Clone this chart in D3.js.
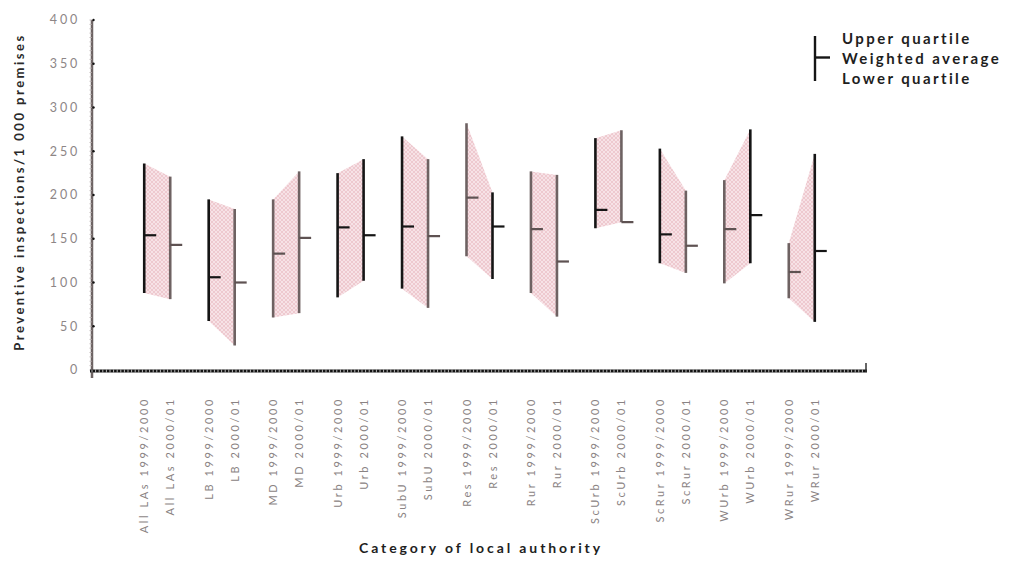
<!DOCTYPE html>
<html>
<head>
<meta charset="utf-8">
<script src="https://cdn.jsdelivr.net/npm/d3@7"></script>
<style>
  html, body { margin: 0; padding: 0; background: #fff; overflow: hidden; }
  svg { display: block; }
  text { font-family: Lato, "Open Sans", sans-serif; }
</style>
</head>
<body>
<script>
// ---- data ----
const groups = ["All LAs", "LB", "MD", "Urb", "SubU", "Res", "Rur", "ScUrb", "ScRur", "WUrb", "WRur"];
const years = ["1999/2000", "2000/01"];
const upper9900 = [236, 195, 195, 225, 267, 282, 227, 265, 253, 217, 145];
const avg9900   = [154, 106, 133, 163, 164, 197, 161, 183, 155, 161, 112];
const lower9900 = [88, 56, 60, 83, 93, 130, 88, 162, 122, 99, 82];
const upper0001 = [221, 184, 227, 241, 241, 203, 223, 274, 205, 275, 247];
const avg0001   = [143, 100, 151, 154, 153, 164, 124, 169, 142, 177, 136];
const lower0001 = [81, 28, 65, 102, 71, 104, 61, 169, 111, 122, 55];
const yTicks = [0, 50, 100, 150, 200, 250, 300, 350, 400];
const legendLabels = ["Upper quartile", "Weighted average", "Lower quartile"];
const yTitle = "Preventive inspections/1 000 premises";
const xTitle = "Category of local authority";

// ---- drawing ----
const W = 1012, H = 574;
const svg = d3.select("body").append("svg").attr("width", W).attr("height", H);

const y = d3.scaleLinear().domain([0, 400]).range([370, 20]);
const x0 = d3.scaleBand().domain(groups).range([125, 834]);
const x1 = d3.scalePoint().domain(years).range([x0.bandwidth() / 2 - 13, x0.bandwidth() / 2 + 13]);

const rows = [];
groups.forEach((g, i) => {
  rows.push({ g, yr: years[0], hi: upper9900[i], avg: avg9900[i], lo: lower9900[i], i, k: 0 });
  rows.push({ g, yr: years[1], hi: upper0001[i], avg: avg0001[i], lo: lower0001[i], i, k: 1 });
});
const xp = d => x0(d.g) + x1(d.yr);

// pattern for the shaded bands
const defs = svg.append("defs");
const pat = defs.append("pattern").attr("id", "hatch").attr("patternUnits", "userSpaceOnUse")
  .attr("width", 4).attr("height", 4);
pat.append("rect").attr("width", 4).attr("height", 4).attr("fill", "#eec9cf");
pat.append("path").attr("d", "M0,0 L4,4 M4,0 L0,4").attr("stroke", "#f9e9ec").attr("stroke-width", 0.8);

// shaded polygons linking the two years
svg.append("g").selectAll("path").data(groups).join("path")
  .attr("fill", "url(#hatch)")
  .attr("d", (g, i) => {
    const a = x0(g) + x1(years[0]), b = x0(g) + x1(years[1]);
    return `M${a},${y(upper9900[i])}L${b},${y(upper0001[i])}L${b},${y(lower0001[i])}L${a},${y(lower9900[i])}Z`;
  });

// axes
const yAxisG = svg.append("g");
yAxisG.append("line").attr("x1", 92).attr("x2", 92).attr("y1", y(400)).attr("y2", 378)
  .attr("stroke", "#6d6363").attr("stroke-width", 2.5);
yAxisG.selectAll("line.minor").data(d3.range(0, 401, 5)).join("line").attr("class", "minor")
  .attr("x1", 89.5).attr("x2", 92).attr("y1", d => y(d)).attr("y2", d => y(d))
  .attr("stroke", "#b5abab").attr("stroke-width", 0.8);
yAxisG.selectAll("circle").data(yTicks.slice(1)).join("circle")
  .attr("cx", 93.5).attr("cy", d => y(d)).attr("r", 1.2).attr("fill", "#111");
yAxisG.selectAll("text").data(yTicks).join("text")
  .attr("x", 80).attr("y", d => y(d)).attr("dy", "0.35em").attr("text-anchor", "end")
  .attr("font-size", 12.5).attr("letter-spacing", 2.8).attr("fill", "#8d8686").text(d => d);

const xAxisG = svg.append("g");
xAxisG.append("line").attr("x1", 90).attr("x2", 867).attr("y1", 371).attr("y2", 371)
  .attr("stroke", "#111").attr("stroke-width", 3.2);
xAxisG.selectAll("line.minor").data(d3.range(92, 866, 3.6)).join("line").attr("class", "minor")
  .attr("x1", d => d).attr("x2", d => d).attr("y1", 369.6).attr("y2", 372.4)
  .attr("stroke", "#fff").attr("stroke-width", 0.7);
xAxisG.append("line").attr("x1", 866).attr("x2", 866).attr("y1", 363).attr("y2", 372)
  .attr("stroke", "#333").attr("stroke-width", 1.5);

// category labels
svg.append("g").selectAll("text").data(rows).join("text")
  .attr("transform", d => `translate(${xp(d) + 4},397) rotate(-90)`)
  .attr("text-anchor", "end")
  .attr("font-size", 11).attr("letter-spacing", 2.6).attr("fill", "#8a8383")
  .text(d => `${d.g} ${d.yr}`);

// quartile lines
const darkLine = [[1,0],[1,0],[0,0],[1,1],[1,0],[0,1],[0,0],[1,0],[1,0],[0,1],[0,1]];
const marks = svg.append("g");
marks.selectAll("line.q").data(rows).join("line").attr("class", "q")
  .attr("x1", xp).attr("x2", xp).attr("y1", d => y(d.hi)).attr("y2", d => y(d.lo))
  .attr("stroke", d => darkLine[d.i][d.k] ? "#151515" : "#6e6262")
  .attr("stroke-width", 2.6);
marks.selectAll("line.a").data(rows).join("line").attr("class", "a")
  .attr("x1", xp).attr("x2", d => xp(d) + 12).attr("y1", d => y(d.avg)).attr("y2", d => y(d.avg))
  .attr("stroke", d => darkLine[d.i][d.k] ? "#151515" : "#5e5252")
  .attr("stroke-width", 2.2);

// legend
const lg = svg.append("g");
lg.append("line").attr("x1", 815).attr("x2", 815).attr("y1", 36).attr("y2", 81)
  .attr("stroke", "#151515").attr("stroke-width", 2.4);
lg.append("line").attr("x1", 815).attr("x2", 830).attr("y1", 57.5).attr("y2", 57.5)
  .attr("stroke", "#151515").attr("stroke-width", 2.4);
lg.selectAll("text").data(legendLabels).join("text")
  .attr("x", 842).attr("y", (d, i) => 44 + i * 20)
  .attr("font-size", 15).attr("font-weight", "bold").attr("letter-spacing", 2.4)
  .attr("fill", "#1e1e1e").text(d => d);

// titles
svg.append("text").attr("transform", "translate(24,192) rotate(-90)")
  .attr("text-anchor", "middle").attr("font-size", 13).attr("letter-spacing", 2.5)
  .attr("font-weight", "bold").attr("fill", "#2a2a2a").text(yTitle);
svg.append("text").attr("x", 481).attr("y", 553)
  .attr("text-anchor", "middle").attr("font-size", 14).attr("letter-spacing", 2.9)
  .attr("font-weight", "bold").attr("fill", "#1e1e1e").text(xTitle);
</script>
</body>
</html>
